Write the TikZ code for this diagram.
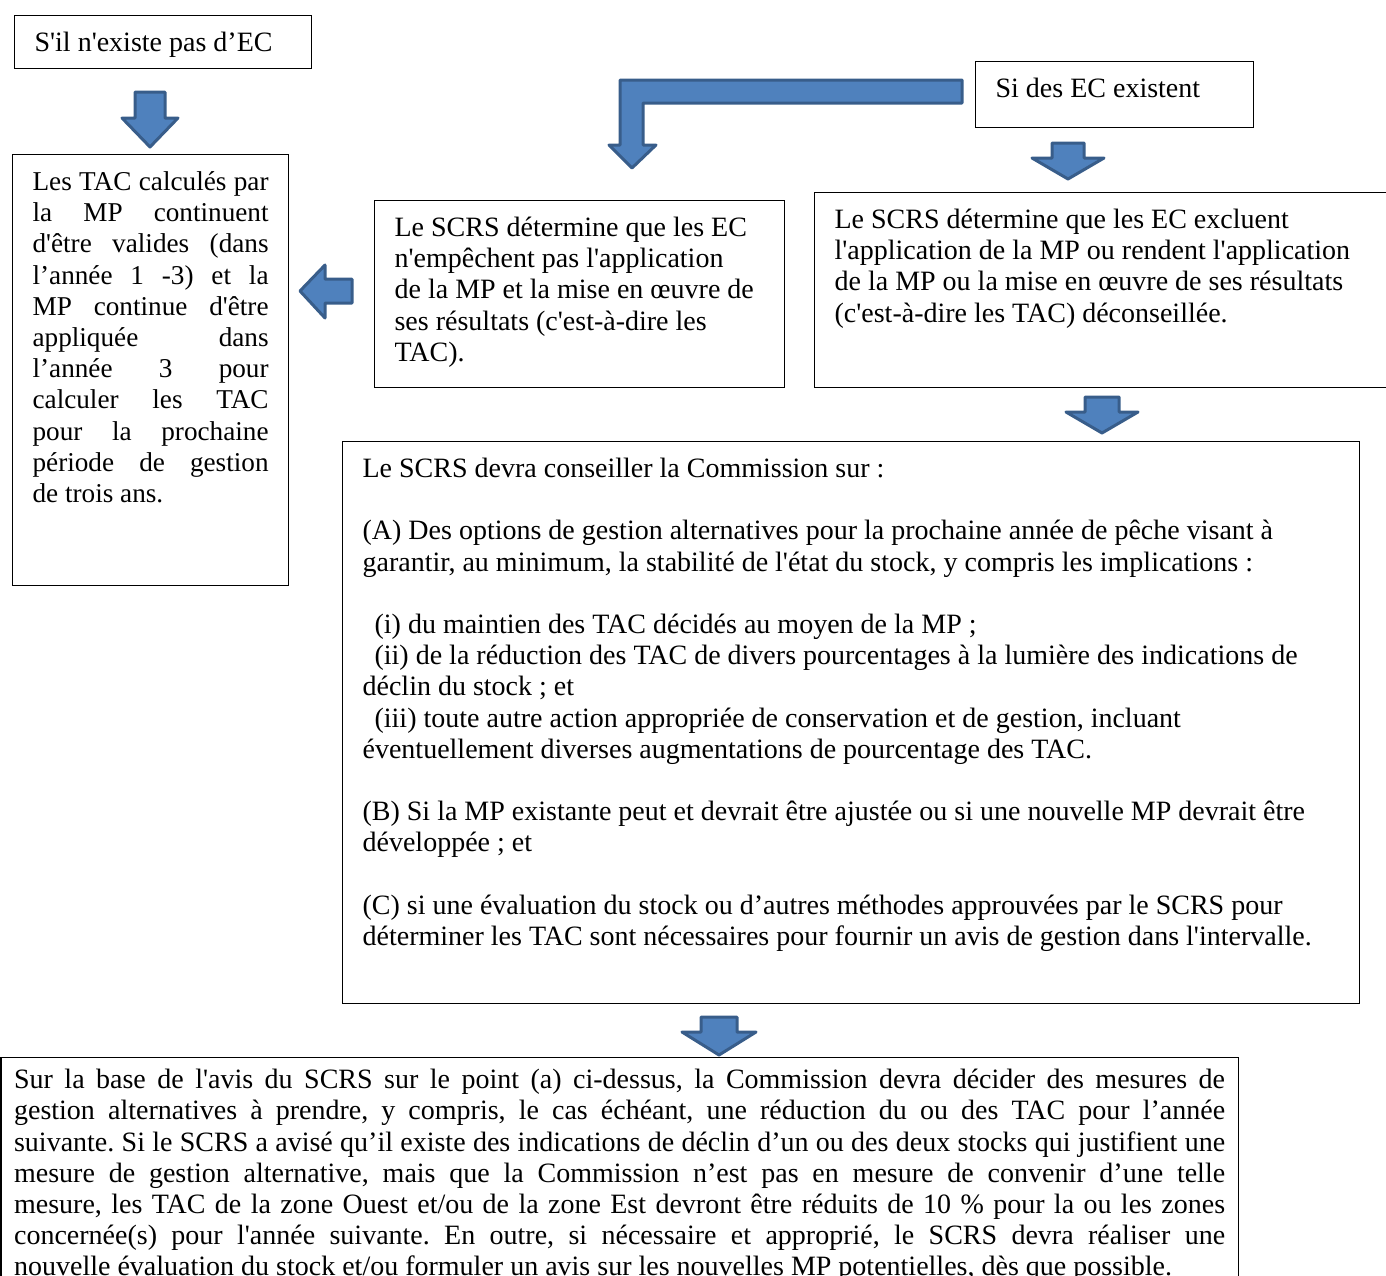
\documentclass[tikz,border=0pt]{standalone}
\usepackage{fontspec}
\setmainfont{Liberation Serif}[Ligatures=TeXOff]
\frenchspacing
\definecolor{arrowfill}{HTML}{4F81BD}
\definecolor{arrowline}{HTML}{385D8A}
% block arrow pointing down: centre x, top y, shaft half width, head half width, head base y, tip y
\newcommand{\downblock}[6]{%
  \draw[blockarrow] (#1-#3,#2) -- (#1+#3,#2) -- (#1+#3,#5) -- (#1+#4,#5) -- (#1,#6)
    -- (#1-#4,#5) -- (#1-#3,#5) -- cycle;}
% text of a box, top aligned: width, height, text
\newcommand{\framedpar}[3]{\parbox[t][#2][t]{#1}{\strut #3}}

\begin{document}
\begin{tikzpicture}[x=0.5pt, y=-0.5pt,
    frame/.style={draw, line width=0.6pt, anchor=north west, inner xsep=10pt, inner ysep=7pt,
                  font=\fontsize{14}{15.6}\selectfont},
    blockarrow/.style={fill=arrowfill, draw=arrowline, line width=1.5pt, line join=round}]
    \useasboundingbox (0,0) rectangle (1386,1275);
    \clip (0,0) rectangle (1386,1275);
    \hyphenpenalty=10000

    % Boxes
    \node[frame] (noec) at (14,15) {\framedpar{128.5pt}{12.5pt}{S'il n'existe pas d’EC}};
    \node[frame] (ecyes) at (975,61) {\framedpar{119pt}{19pt}{Si des EC existent}};
    \node[frame, font=\fontsize{13.6}{15.6}\selectfont] (valid) at (12,154) {\framedpar{118pt}{201.5pt}{Les TAC calculés par\linebreak
        la MP continuent\linebreak d'être valides (dans\linebreak l’année 1 -3) et la\linebreak
        MP continue d'être\linebreak appliquée dans\linebreak l’année 3 pour\linebreak
        calculer les TAC\linebreak pour la prochaine\linebreak période de gestion\linebreak
        de trois ans.}};
    \node[frame] (noblock) at (374,200) {\framedpar{185pt}{79.5pt}{\raggedright
        Le SCRS détermine que les EC\\ n'empêchent pas l'application\\
        de la MP et la mise en œuvre de\\ ses résultats (c'est-à-dire les\\ TAC).}};
    \node[frame] (block) at (814,192) {\framedpar{268pt}{83.5pt}{\raggedright
        Le SCRS détermine que les EC excluent\\ l'application de la MP ou rendent l'application\\
        de la MP ou la mise en œuvre de ses résultats\\ (c'est-à-dire les TAC) déconseillée.}};
    \node[frame] (advice) at (342,441) {\framedpar{488.5pt}{267pt}{\raggedright
        Le SCRS devra conseiller la Commission sur :\\[15.6pt]
        (A) Des options de gestion alternatives pour la prochaine année de pêche visant à\\
        garantir, au minimum, la stabilité de l'état du stock, y compris les implications :\\[15.6pt]
        \hspace*{6pt}(i) du maintien des TAC décidés au moyen de la MP ;\\
        \hspace*{6pt}(ii) de la réduction des TAC de divers pourcentages à la lumière des indications de\\
        déclin du stock ; et\\
        \hspace*{6pt}(iii) toute autre action appropriée de conservation et de gestion, incluant\\
        éventuellement diverses augmentations de pourcentage des TAC.\\[15.6pt]
        (B) Si la MP existante peut et devrait être ajustée ou si une nouvelle MP devrait être\\
        développée ; et\\[15.6pt]
        (C) si une évaluation du stock ou d’autres méthodes approuvées par le SCRS pour\\
        déterminer les TAC sont nécessaires pour fournir un avis de gestion dans l'intervalle.}};
    \node[frame, inner xsep=6.5pt, inner ysep=4.6pt] (decision) at (0.5,1057) {\framedpar{605.5pt}{110pt}{%
        Sur la base de l'avis du SCRS sur le point (a) ci-dessus, la Commission devra décider des mesures de\linebreak
        gestion alternatives à prendre, y compris, le cas échéant, une réduction du ou des TAC pour l’année\linebreak
        suivante. Si le SCRS a avisé qu’il existe des indications de déclin d’un ou des deux stocks qui justifient une\linebreak
        mesure de gestion alternative, mais que la Commission n’est pas en mesure de convenir d’une telle\linebreak
        mesure, les TAC de la zone Ouest et/ou de la zone Est devront être réduits de 10 \% pour la ou les zones\linebreak
        concernée(s) pour l'année suivante. En outre, si nécessaire et approprié, le SCRS devra réaliser une\linebreak
        nouvelle évaluation du stock et/ou formuler un avis sur les nouvelles MP potentielles, dès que possible.}};

    % Block arrows
    \downblock{150}{92}{15}{28}{118}{147}
    \downblock{1068}{143}{16}{36}{158}{179}
    \downblock{1102}{397}{17}{36}{412}{433}
    \downblock{719}{1017}{18}{37}{1032}{1055}
    \draw[blockarrow] (352,279) -- (352,303) -- (325,303) -- (325,318) -- (300,291)
        -- (325,265) -- (325,279) -- cycle;
    % bent arrow
    \draw[blockarrow] (962,80) -- (962,103) -- (643,103) -- (643,145) -- (656,145) -- (632,168)
        -- (609,145) -- (620,145) -- (620,80) -- cycle;
\end{tikzpicture}
\end{document}
